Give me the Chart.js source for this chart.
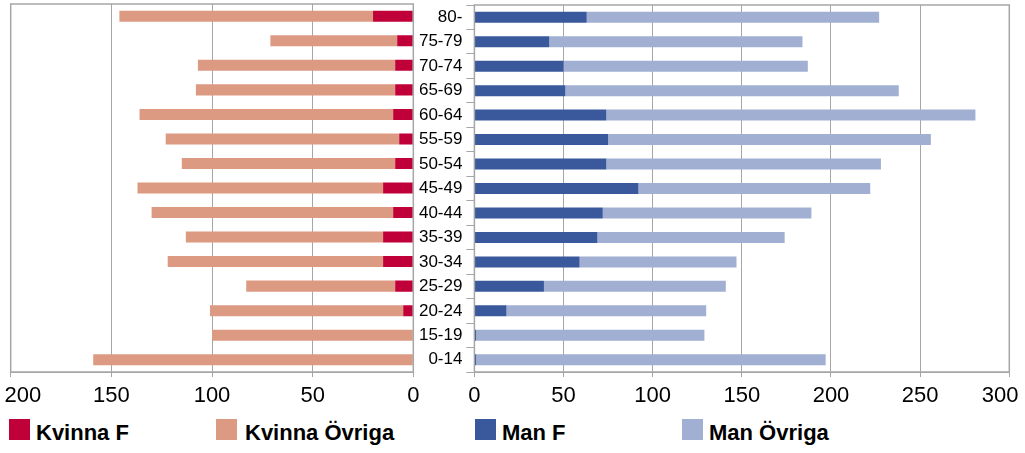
<!DOCTYPE html>
<html>
<head>
<meta charset="utf-8">
<script src="https://cdn.jsdelivr.net/npm/chart.js@4/dist/chart.umd.min.js"></script>
<style>
  body { margin: 0; background: #fff; width: 1025px; height: 453px; overflow: hidden; position: relative;
         font-family: "Liberation Sans", Arial, sans-serif; }
  .box { position: absolute; top: 0; height: 410px; }
  #leftBox { left: 0; width: 440px; }
  #rightBox { left: 414px; width: 611px; }
  .sq { position: absolute; top: 419px; width: 21px; height: 21px; }
  .lbl { position: absolute; top: 422px; font-size: 22px; font-weight: bold; line-height: 21px; color: #000; white-space: nowrap; }
</style>
</head>
<body>
<div class="box" id="leftBox"><canvas id="left"></canvas></div>
<div class="box" id="rightBox"><canvas id="right"></canvas></div>
<div id="legend"></div>
<script>
// Age groups, top to bottom
const categories = ["80-", "75-79", "70-74", "65-69", "60-64", "55-59", "50-54", "45-49",
                    "40-44", "35-39", "30-34", "25-29", "20-24", "15-19", "0-14"];

const kvinnaF      = [20, 8, 9, 9, 10, 7, 9, 15, 10, 15, 15, 9, 5, 0, 0];
const kvinnaOvriga = [126, 63, 98, 99, 126, 116, 106, 122, 120, 98, 107, 74, 96, 100, 159];
const manF         = [63, 42, 50, 51, 74, 75, 74, 92, 72, 69, 59, 39, 18, 1, 1];
const manOvriga    = [164, 142, 137, 187, 207, 181, 154, 130, 117, 105, 88, 102, 112, 128, 196];

const leftTicks  = [0, 50, 100, 150, 200];
const rightTicks = [0, 50, 100, 150, 200, 250, 300];

const colors = {
  kvinnaF: "#c00038",
  kvinnaOvriga: "#dd9a82",
  manF: "#3a589c",
  manOvriga: "#a0afd2"
};

const FONT = "'Liberation Sans', Arial, sans-serif";
const GRID = "#a6a6a6";

// plot frame (Excel style border round the plot area)
const frame = {
  id: "frame",
  afterDatasetsDraw(chart) {
    const a = chart.chartArea;
    const ctx = chart.ctx;
    ctx.save();
    ctx.strokeStyle = GRID;
    ctx.lineWidth = 1.5;
    ctx.strokeRect(a.left, a.top, a.right - a.left, a.bottom - a.top);
    ctx.restore();
  }
};

function xAxis(ticks, reverse, edgeLabel) {
  return {
    type: "linear",
    min: ticks[0],
    max: ticks[ticks.length - 1],
    reverse: reverse,
    stacked: true,
    grid: { color: GRID, lineWidth: 1, tickLength: 5 },
    border: { color: GRID },
    ticks: {
      stepSize: 50,
      color: "#000",
      padding: 6,
      font: { size: 22, family: FONT },
      // keep the outer label inside the picture, like the original
      callback: v => v === ticks[ticks.length - 1] ? edgeLabel : String(v)
    },
    afterFit(s) {
      s.height = 38;
      s.paddingLeft = 0;
      s.paddingRight = 0;
    }
  };
}

Chart.defaults.animation = false;

new Chart(document.getElementById("left"), {
  type: "bar",
  data: {
    labels: categories,
    datasets: [
      { label: "Kvinna F", data: kvinnaF, backgroundColor: colors.kvinnaF },
      { label: "Kvinna Övriga", data: kvinnaOvriga, backgroundColor: colors.kvinnaOvriga }
    ]
  },
  options: {
    indexAxis: "y",
    responsive: true,
    maintainAspectRatio: false,
    datasets: { bar: { barPercentage: 0.45, categoryPercentage: 1 } },
    layout: { padding: { left: 10.7, right: 26.7, top: 4, bottom: 0 } },
    scales: {
      x: xAxis(leftTicks, true, "    200"),
      y: { display: false, stacked: true }
    },
    plugins: { legend: { display: false }, tooltip: { enabled: false } }
  },
  plugins: [frame]
});

new Chart(document.getElementById("right"), {
  type: "bar",
  data: {
    labels: categories,
    datasets: [
      { label: "Man F", data: manF, backgroundColor: colors.manF },
      { label: "Man Övriga", data: manOvriga, backgroundColor: colors.manOvriga }
    ]
  },
  options: {
    indexAxis: "y",
    responsive: true,
    maintainAspectRatio: false,
    datasets: { bar: { barPercentage: 0.45, categoryPercentage: 1 } },
    layout: { padding: { left: 0, right: 15.7, top: 5, bottom: 0 } },
    scales: {
      x: xAxis(rightTicks, false, "300   "),
      y: {
        stacked: true,
        grid: { drawOnChartArea: false, drawTicks: true, tickLength: 8, color: GRID, offset: true },
        border: { color: GRID },
        ticks: { color: "#000", padding: 4, labelOffset: 0, font: { size: 17, family: FONT } },
        afterFit(s) {
          s.width = 60.4;
          s.paddingTop = 0;
          s.paddingBottom = 0;
        }
      }
    },
    plugins: { legend: { display: false }, tooltip: { enabled: false } }
  },
  plugins: [frame]
});

// legend, laid out like the original
const legendItems = [
  { text: "Kvinna F", color: colors.kvinnaF, sq: 9, tx: 36 },
  { text: "Kvinna Övriga", color: colors.kvinnaOvriga, sq: 216, tx: 245 },
  { text: "Man F", color: colors.manF, sq: 475, tx: 502 },
  { text: "Man Övriga", color: colors.manOvriga, sq: 682, tx: 709 }
];
const legend = document.getElementById("legend");
legendItems.forEach(function (item) {
  const sq = document.createElement("div");
  sq.className = "sq";
  sq.style.left = item.sq + "px";
  sq.style.background = item.color;
  legend.appendChild(sq);
  const lbl = document.createElement("div");
  lbl.className = "lbl";
  lbl.style.left = item.tx + "px";
  lbl.textContent = item.text;
  legend.appendChild(lbl);
});
</script>
</body>
</html>
